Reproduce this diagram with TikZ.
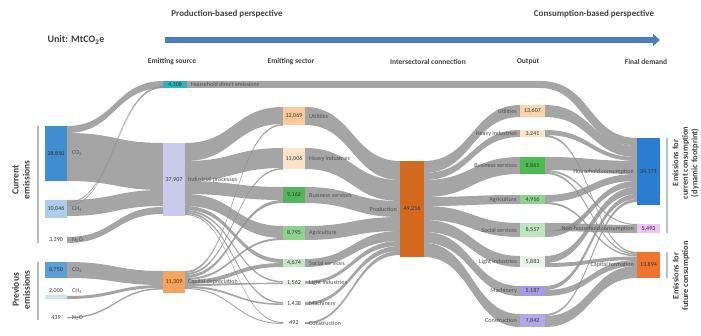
\documentclass[tikz,border=0pt]{standalone}
\usepackage{fontspec}
\setmainfont{Carlito}
\usetikzlibrary{arrows.meta}
\definecolor{flowg}{RGB}{145,145,145}
\definecolor{arrowblue}{RGB}{74,126,187}
\definecolor{hdr}{RGB}{64,64,64}
\definecolor{lblc}{RGB}{80,80,80}
\definecolor{co2c}{RGB}{64,141,210}
\definecolor{ch4c}{RGB}{172,205,235}
\definecolor{ch4p}{RGB}{205,225,243}
\definecolor{hhc}{RGB}{44,181,192}
\definecolor{indc}{RGB}{202,202,234}
\definecolor{capdc}{RGB}{247,163,92}
\definecolor{utilc}{RGB}{252,201,154}
\definecolor{heavyc}{RGB}{253,227,200}
\definecolor{busc}{RGB}{85,181,90}
\definecolor{agric}{RGB}{143,210,143}
\definecolor{socc}{RGB}{195,232,195}
\definecolor{lightc}{RGB}{232,245,232}
\definecolor{prodc}{RGB}{210,105,30}
\definecolor{machc}{RGB}{169,155,227}
\definecolor{constc}{RGB}{179,169,230}
\definecolor{fhc}{RGB}{42,125,209}
\definecolor{fnc}{RGB}{233,200,243}
\definecolor{fcc}{RGB}{240,116,47}
\definecolor{brk}{RGB}{185,185,185}
\definecolor{brkr}{RGB}{184,196,204}
\tikzset{
  flow/.style={fill=flowg, fill opacity=0.82},
  box/.style={inner sep=0pt, outer sep=0pt, font=\fontsize{6}{6.5}\selectfont, text=black!80},
  lbl/.style={inner sep=0pt, font=\fontsize{6.1}{6.5}\selectfont, text=lblc},
  colhdr/.style={font=\bfseries\fontsize{7.5}{8}\selectfont, text=hdr},
  tophdr/.style={font=\bfseries\fontsize{9}{10}\selectfont, text=hdr},
  sidelbl/.style={rotate=90, align=center, font=\bfseries\fontsize{9.5}{11}\selectfont, text=hdr},
  sidelblr/.style={rotate=90, align=center, font=\bfseries\fontsize{8.4}{9.5}\selectfont, text=hdr},
}
\newcommand\sflow[6]{\fill[flow] (#1,#2) .. controls ({(#1+#4)/2},#2) and ({(#1+#4)/2},#5) .. (#4,#5) -- (#4,#6) .. controls ({(#1+#4)/2},#6) and ({(#1+#4)/2},#3) .. (#1,#3) -- cycle;}
\begin{document}
\begin{tikzpicture}[x=1pt,y=-1pt]
\useasboundingbox (0,0) rectangle (701,336);
% ---------- titles ----------
\node[tophdr] (prodp) at (227,14) {Production-based perspective};
\node[tophdr] (consp) at (594,14) {Consumption-based perspective};
\node[tophdr, anchor=west, font=\bfseries\fontsize{10}{11}\selectfont] (unit) at (44,40) {Unit: MtCO\textsubscript{2}e};
\coordinate (arrS) at (165,40);
\coordinate (arrE) at (660,40);
\draw[arrowblue, line width=6pt, -{Triangle[length=7pt,width=12pt]}] (arrS) -- (arrE);
\node[colhdr] (h1) at (172,62) {Emitting source};
\node[colhdr] (h2) at (291,62) {Emitting sector};
\node[colhdr] (h3) at (428,62) {Intersectoral connection};
\node[colhdr] (h4) at (528,62) {Output};
\node[colhdr] (h5) at (646,62) {Final demand};
% ---------- flows: gas -> source ----------
\sflow{67}{126}{133}{163}{81}{88}
\sflow{67}{133}{181}{163}{143}{190}
\sflow{67}{200}{216}{163}{190}{206}
\sflow{67}{202}{203}{163}{86}{87}
\sflow{67}{205}{206}{163}{87}{88}
\sflow{67}{237}{243}{163}{207}{214}
\sflow{67}{262}{278}{163}{271}{285}
\sflow{67}{296}{299}{163}{285}{288}
\sflow{67}{317}{318.5}{163}{288}{289.5}
% ---------- household direct band ----------
\fill[flow] (185,81) -- (540,81) .. controls (592,81) and (588,138) .. (637,138) -- (637,146) .. controls (582,146) and (586,88) .. (540,88) -- (185,88) -- cycle;
% ---------- flows: source -> sector ----------
\sflow{185}{143}{161}{283}{107}{124}
\sflow{185}{161}{181}{283}{148}{168}
\sflow{185}{181}{194}{283}{187}{200}
\sflow{185}{194}{206}{283}{226}{238}
\sflow{185}{206}{210}{283}{259}{263}
\sflow{185}{210}{212}{283}{281}{282.5}
\sflow{185}{212}{214}{283}{302}{303.5}
\sflow{185}{214}{215}{283}{322}{323}
\sflow{185}{271}{273}{283}{124}{125.5}
\sflow{185}{273}{275}{283}{168}{169.5}
\sflow{185}{275}{278}{283}{200}{203}
\sflow{185}{278}{280}{283}{238}{240}
\sflow{185}{280}{284}{283}{263}{267}
\sflow{185}{284}{286}{283}{282.5}{284}
\sflow{185}{286}{288}{283}{303.5}{305}
\sflow{185}{288}{289}{283}{323}{324}
% ---------- flows: sector -> production ----------
\sflow{305}{107}{125}{400}{161}{180}
\sflow{305}{148}{169}{400}{180}{201}
\sflow{305}{187}{203}{400}{201}{217}
\sflow{305}{226}{240}{400}{217}{231}
\sflow{305}{259}{267}{400}{231}{241}
\sflow{305}{281}{284}{400}{241}{246}
\sflow{305}{302}{305}{400}{246}{251}
\sflow{305}{322}{324}{400}{251}{255}
% ---------- flows: production -> output ----------
\sflow{424}{161}{173}{520}{105}{117}
\sflow{424}{173}{180}{520}{130}{137}
\sflow{424}{180}{197}{520}{157}{174}
\sflow{424}{197}{206}{520}{195}{204}
\sflow{424}{206}{220}{520}{223}{237}
\sflow{424}{220}{232}{520}{256}{267}
\sflow{424}{232}{243}{520}{286}{296}
\sflow{424}{243}{257}{520}{314}{327}
% ---------- flows: output -> final ----------
\sflow{545}{105}{117}{637}{146}{157}
\sflow{545}{130}{135}{637}{157}{161}
\sflow{545}{135}{137}{637}{252}{253.5}
\sflow{545}{157}{170}{637}{161}{174}
\sflow{545}{170}{172}{637}{224}{225}
\sflow{545}{172}{174}{637}{253.5}{255}
\sflow{545}{195}{202}{637}{174}{181}
\sflow{545}{202}{204}{637}{255}{256.5}
\sflow{545}{223}{231}{637}{225}{233}
\sflow{545}{231}{237}{637}{181}{187}
\sflow{545}{256}{263}{637}{187}{194}
\sflow{545}{263}{267}{637}{256.5}{260}
\sflow{545}{286}{290}{637}{194}{199}
\sflow{545}{290}{296}{637}{260}{266}
\sflow{545}{314}{316}{637}{199}{202}
\sflow{545}{316}{327}{637}{266}{278}
% ---------- brackets ----------
\coordinate (lb1a) at (38,126); \coordinate (lb1b) at (38,243);
\coordinate (lb2a) at (38,262); \coordinate (lb2b) at (38,320);
\coordinate (rb1a) at (667,138); \coordinate (rb1b) at (667,233);
\coordinate (rb2a) at (667,252); \coordinate (rb2b) at (667,278);
\draw[brk, line width=2pt] (lb1a) -- (lb1b);
\draw[brk, line width=2pt] (lb2a) -- (lb2b);
\draw[brkr, line width=2pt] (rb1a) -- (rb1b);
\draw[brkr, line width=2pt] (rb2a) -- (rb2b);
\node[sidelbl] (curem) at (21,180) {Current\\emissions};
\node[sidelbl] (prevem) at (21,290) {Previous\\emissions};
\node[sidelblr] (curcons) at (685.5,163) {Emissions for\\current consumption\\(dynamic footprint)};
\node[sidelblr] (futcons) at (681,276) {Emissions for\\future consumption};
% ---------- gas column ----------
\node[box, fill=co2c, minimum width=22pt, minimum height=55pt] (gco2c) at (56,153.5) {28,850};
\node[box, fill=ch4c, minimum width=22pt, minimum height=18pt] (gch4c) at (56,209) {10,046};
\node[box] (gn2oc) at (56,240) {3,390};
\node[box, fill=co2c!85, minimum width=22pt, minimum height=16pt] (gco2p) at (56,270) {8,750};
\path[fill=ch4p] (45,295.5) rectangle (67,299);
\node[box] (gch4p) at (56,291) {2,000};
\node[box] (gn2op) at (56,318) {439};
\node[lbl, anchor=west] (lco2c) at (72,153.5) {CO\textsubscript{2}};
\node[lbl, anchor=west] (lch4c) at (72,209) {CH\textsubscript{4}};
\node[lbl, anchor=west] (ln2oc) at (72,240) {N\textsubscript{2}O};
\node[lbl, anchor=west] (lco2p) at (72,270) {CO\textsubscript{2}};
\node[lbl, anchor=west] (lch4p) at (72,291) {CH\textsubscript{4}};
\node[lbl, anchor=west] (ln2op) at (72,318) {N\textsubscript{2}O};
% ---------- source column ----------
\node[box, fill=hhc, minimum width=24pt, minimum height=7pt] (shh) at (175,84.5) {4,308};
\node[box, fill=indc, minimum width=22pt, minimum height=73pt] (sind) at (174,179.5) {37,907};
\node[box, fill=capdc, minimum width=22pt, minimum height=22pt] (scap) at (174,282) {11,309};
\node[lbl, anchor=west] (lhh) at (191,84.5) {Household direct emissions};
\node[lbl, anchor=west] (lind) at (188,179.5) {Industrial processes};
\node[lbl, anchor=west] (lcap) at (188,282) {Capital depreciation};
% ---------- sector column ----------
\node[box, fill=utilc, minimum width=22pt, minimum height=18pt] (eu) at (294,116) {12,069};
\node[box, fill=heavyc, minimum width=22pt, minimum height=21pt] (eh) at (294,158.5) {11,006};
\node[box, fill=busc, minimum width=22pt, minimum height=16pt] (eb) at (294,195) {9,162};
\node[box, fill=agric, minimum width=22pt, minimum height=14pt] (ea) at (294,233) {8,795};
\node[box, fill=socc, minimum width=22pt, minimum height=8pt] (es) at (294,263) {4,674};
\node[box, fill=lightc, minimum width=22pt, minimum height=3pt] (el) at (294,282.5) {1,562};
\node[box] (em) at (294,303.5) {1,438};
\node[box] (ec) at (294,323) {492};
\node[lbl, anchor=west] (leu) at (309,116) {Utilities};
\node[lbl, anchor=west] (leh) at (309,158.5) {Heavy industries};
\node[lbl, anchor=west] (leb) at (309,195) {Business services};
\node[lbl, anchor=west] (lea) at (309,233) {Agriculture};
\node[lbl, anchor=west] (les) at (309,263) {Social services};
\node[lbl, anchor=west] (lel) at (309,282.5) {Light industries};
\node[lbl, anchor=west] (lem) at (309,303.5) {Machinery};
\node[lbl, anchor=west] (lec) at (309,323) {Construction};
% ---------- production ----------
\node[box, fill=prodc, minimum width=24pt, minimum height=96pt] (prod) at (412,209) {49,216};
\node[lbl, anchor=east] (lprod) at (397,209) {Production};
% ---------- output column ----------
\node[box, fill=utilc!80, minimum width=25pt, minimum height=12pt] (ou) at (532.5,111) {13,607};
\node[box, fill=heavyc, minimum width=25pt, minimum height=7pt] (oh) at (532.5,133.5) {3,241};
\node[box, fill=busc!90!green, minimum width=25pt, minimum height=17pt] (ob) at (532.5,165.5) {8,861};
\node[box, fill=agric, minimum width=25pt, minimum height=9pt] (oa) at (532.5,199.5) {4,916};
\node[box, fill=socc!90!agric, minimum width=25pt, minimum height=14pt] (os) at (532.5,230) {8,557};
\node[box, fill=lightc, minimum width=25pt, minimum height=11pt] (ol) at (532.5,261.5) {5,883};
\node[box, fill=machc, minimum width=25pt, minimum height=10pt] (om) at (532.5,291) {5,187};
\node[box, fill=constc, minimum width=25pt, minimum height=13pt] (oc) at (532.5,320.5) {7,842};
\node[lbl, anchor=east] (lou) at (517,111) {Utilities};
\node[lbl, anchor=east] (loh) at (517,133.5) {Heavy industries};
\node[lbl, anchor=east] (lob) at (517,165.5) {Business services};
\node[lbl, anchor=east] (loa) at (517,199.5) {Agriculture};
\node[lbl, anchor=east] (los) at (517,230) {Social services};
\node[lbl, anchor=east] (lol) at (517,261.5) {Light industries};
\node[lbl, anchor=east] (lom) at (517,291) {Machinery};
\node[lbl, anchor=east] (loc) at (517,320.5) {Construction};
% ---------- final demand ----------
\node[box, fill=fhc, minimum width=23pt, minimum height=67pt] (fh) at (648.5,171.5) {34,171};
\node[box, fill=fnc, minimum width=23pt, minimum height=9pt, text=violet!70!black] (fn) at (648.5,228.5) {5,493};
\node[box, fill=fcc, minimum width=23pt, minimum height=26pt] (fc) at (648.5,265) {13,894};
\node[lbl, anchor=east] (lfh) at (634,171.5) {Household consumption};
\node[lbl, anchor=east] (lfn) at (634,228.5) {Non-household consumption};
\node[lbl, anchor=east] (lfc) at (634,265) {Capital formation};
\end{tikzpicture}
\end{document}
